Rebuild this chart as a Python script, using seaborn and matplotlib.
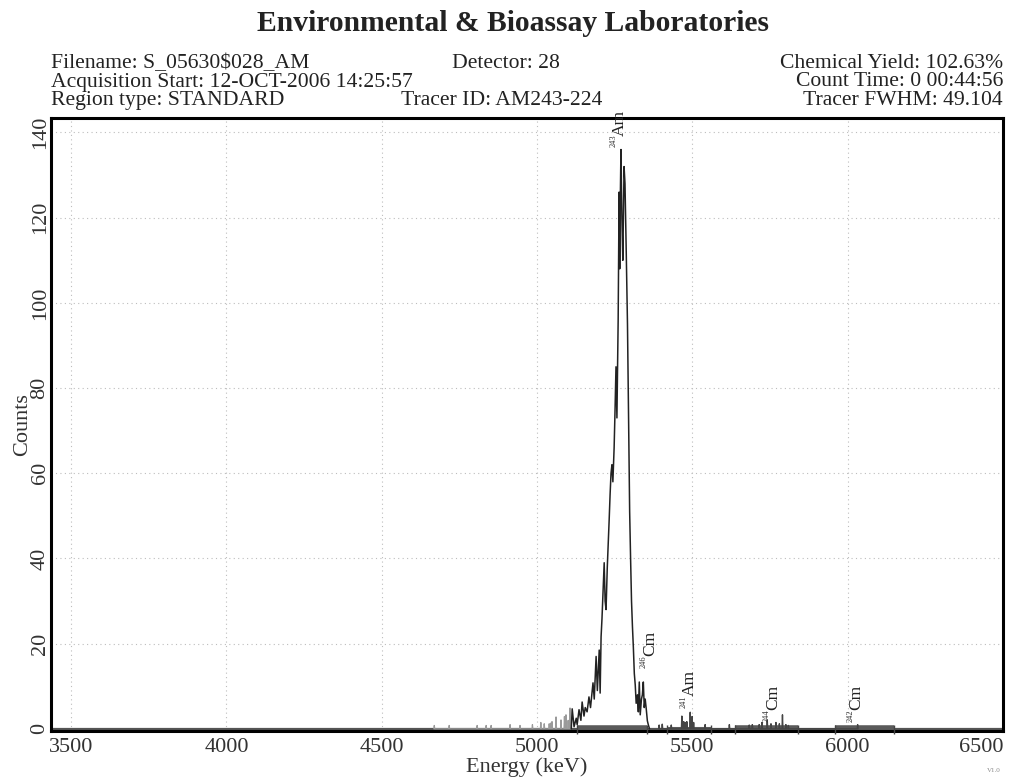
import numpy as np
import pandas as pd
import matplotlib
matplotlib.use("Agg")
import matplotlib.pyplot as plt
import seaborn as sns

# ---------------- data ----------------
# main 243Am peak region (keV, counts)
peak_energy = [5110, 5113, 5119, 5126, 5129, 5135, 5141, 5145, 5151, 5155,
               5161, 5167, 5172, 5180, 5184, 5190, 5194, 5200, 5203, 5206,
               5209, 5216, 5219, 5222, 5226, 5232, 5235, 5238, 5241, 5244,
               5248, 5251, 5254, 5257, 5261, 5264, 5266, 5268, 5270, 5273,
               5276, 5280, 5283, 5287, 5291, 5295, 5298, 5301, 5304, 5307,
               5310, 5313, 5316, 5319, 5323, 5326, 5329, 5332, 5336, 5339,
               5342, 5345, 5348, 5351, 5355, 5358, 5362]
peak_counts = [0, 4.7, 0.5, 2.5, 1, 4.5, 2, 6.3, 3, 5,
               4, 7.5, 5, 10.8, 7, 17, 9, 18.5, 8.4, 21.6,
               26, 39, 30, 28, 38, 49, 55, 60, 62, 58,
               66, 75, 85, 73, 96, 126, 108, 125, 136, 120,
               110, 132, 128, 112, 95, 70, 51, 40, 30, 24,
               19, 13, 10.3, 6, 8, 4, 11, 3.3, 7, 8,
               11, 5, 7, 5, 1.9, 1, 0]

# low-energy tail (isolated channels, light trace)
tail_energy = [4669, 4717, 4807, 4836, 4852, 4913, 4945, 4985, 5012, 5023,
               5039, 5045, 5048, 5061, 5077, 5088, 5093, 5100, 5106]
tail_counts = [0.8, 0.8, 0.8, 0.8, 0.8, 1.0, 0.8, 1.0, 1.5, 1.2,
               1.2, 1.4, 1.7, 2.8, 2.1, 2.9, 3.3, 2.0, 4.9]

# isolated channels above the main peak
spike_energy = [5393, 5403, 5432, 5466, 5472, 5477, 5482, 5493, 5499, 5504,
                5541, 5619, 5683, 5693, 5715, 5724, 5741, 5753, 5769, 5780,
                5790, 5801, 5809, 6032]
spike_counts = [0.9, 1.1, 0.9, 3.0, 1.7, 1.5, 1.7, 3.9, 2.9, 1.5,
                1.0, 1.0, 0.9, 1.0, 1.0, 1.5, 2.1, 1.2, 1.5, 1.2,
                3.3, 1.0, 0.8, 1.0]

# regions of interest
roi_start = [5129, 5419, 5638, 5960]
roi_end = [5355, 5561, 5841, 6150]
roi_thick = [True, False, True, True]

# peak labels
label_iso = ["243", "246", "241", "244", "242"]
label_elem = ["Am", "Cm", "Am", "Cm", "Cm"]
label_energy = [5265, 5364, 5493, 5760, 6028]
label_count = [136.5, 14.3, 4.9, 1.6, 1.6]

x_ticks = [3500, 4000, 4500, 5000, 5500, 6000, 6500]
y_ticks = [0, 20, 40, 60, 80, 100, 120, 140]

header_left = ["Filename: S_05630$028_AM",
               "Acquisition Start: 12-OCT-2006 14:25:57",
               "Region type: STANDARD"]
header_right = ["Chemical Yield: 102.63%",
                "Count Time: 0 00:44:56",
                "Tracer FWHM: 49.104"]
detector_text = "Detector: 28"
tracer_text = "Tracer ID: AM243-224"
title_text = "Environmental & Bioassay Laboratories"

# ---------------- style ----------------
sns.set_style("white")
plt.rcParams["font.family"] = ["Liberation Serif", "DejaVu Serif"]

W, H = 1010, 781
fig = plt.figure(figsize=(W / 100, H / 100), dpi=100)
ax = fig.add_axes([51 / W, 1 - 731 / H, (1003 - 51) / W, (731 - 118) / H])


def spikes(energies, counts, half=1.4):
    xs, ys = [], []
    for e, c in zip(energies, counts):
        xs += [e - half, e, e + half]
        ys += [0, c, 0]
    return pd.DataFrame({"Energy": xs, "Counts": ys})


peak_df = pd.DataFrame({"Energy": peak_energy, "Counts": peak_counts})
tail_df = spikes(tail_energy, tail_counts)
spike_df = spikes(spike_energy, spike_counts)

# baseline (zero counts channels)
ax.axhline(0, color="#555555", lw=1.6, zorder=2)
for s, e, t in zip(roi_start, roi_end, roi_thick):
    ax.hlines(0.2, s, e, color="#5a5a5a", lw=4.0 if t else 2.2, zorder=2)
    ax.vlines([s, e], -1.3, 0.8, color="#444444", lw=1.0, clip_on=False, zorder=3)

sns.lineplot(data=tail_df, x="Energy", y="Counts", ax=ax, color="#9a9a9a",
             lw=0.9, estimator=None, sort=False, zorder=3)
sns.lineplot(data=spike_df, x="Energy", y="Counts", ax=ax, color="#444444",
             lw=1.0, estimator=None, sort=False, zorder=3)
sns.lineplot(data=peak_df, x="Energy", y="Counts", ax=ax, color="#222222",
             lw=1.1, estimator=None, sort=False, zorder=4)

for iso, el, e, c in zip(label_iso, label_elem, label_energy, label_count):
    # small isotope number (superscript, sits to the left when rotated)
    ax.annotate(iso, xy=(e, c), xytext=(-4.5, 0), textcoords="offset points",
                rotation=90, ha="center", va="bottom", fontsize=6,
                color="#333333", annotation_clip=False, zorder=5)
    ax.annotate(el, xy=(e, c), xytext=(0, 8.5), textcoords="offset points",
                rotation=90, ha="center", va="bottom", fontsize=12.5,
                color="#222222", annotation_clip=False, zorder=5)

ax.set_xlim(3435, 6500)
ax.set_ylim(-0.5, 143.4)
ax.set_xticks(x_ticks)
ax.set_yticks(y_ticks)
ax.set_xticklabels([str(v) for v in x_ticks])
ax.set_yticklabels([str(v) for v in y_ticks])
ax.get_xticklabels()[-1].set_ha("right")
ax.tick_params(axis="both", length=0, labelsize=16, colors="#333333", pad=5)
ax.tick_params(axis="y", labelrotation=90, pad=1)
for lab in ax.get_yticklabels():
    lab.set_va("center")

ax.grid(True, color="#bdbdbd", linestyle=(0, (1, 3)), linewidth=0.8)
ax.set_axisbelow(True)
for sp in ax.spines.values():
    sp.set_color("black")
    sp.set_linewidth(2.2)

ax.set_xlabel("Energy (keV)", fontsize=16, color="#333333", labelpad=0)
ax.set_ylabel("Counts", fontsize=16, color="#333333", labelpad=-1)

# ---------------- header ----------------
def ftext(x, y, s, **kw):
    fig.text(x / W, 1 - y / H, s, **kw)

ftext(513, 31, title_text, ha="center", va="baseline", fontsize=21.3,
      fontweight="bold", color="#222222")
rows = [68, 86.5, 105]
hfs = 15.6
for y, s in zip(rows, header_left):
    ftext(51, y, s, ha="left", va="baseline", fontsize=hfs, color="#222222")
for y, s in zip(rows, header_right):
    ftext(1003, y, s, ha="right", va="baseline", fontsize=hfs, color="#222222")
ftext(452, rows[0], detector_text, ha="left", va="baseline", fontsize=hfs, color="#222222")
ftext(401, rows[2], tracer_text, ha="left", va="baseline", fontsize=hfs, color="#222222")
ftext(1001, 772, "V1.0", ha="right", va="baseline", fontsize=5, color="#888888")

fig.savefig("out.png", dpi=100, facecolor="white")
